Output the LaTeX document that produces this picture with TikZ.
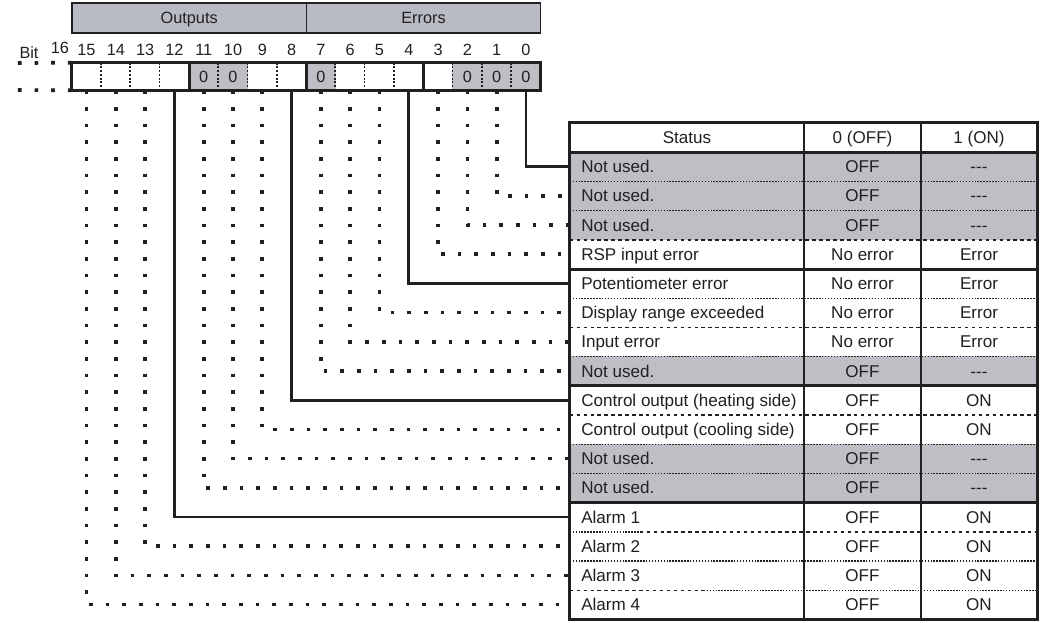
\documentclass[tikz,border=0pt]{standalone}
\usepackage{fontspec}
\setmainfont{Liberation Sans}
\usepackage{xcolor}
\usepackage{tikz}
\usetikzlibrary{calc}

\definecolor{ink}{RGB}{35,31,32}
\definecolor{cellgray}{RGB}{189,191,197}
\definecolor{bargray}{RGB}{184,187,195}
\newcommand{\nousedash}{\hbox{-}\hbox{-}\hbox{-}}

\tikzset{
  bitcell/.style={minimum width=21.98pt, minimum height=20.25pt, inner sep=0pt},
  bitnum/.style={inner sep=0pt, text=ink, font=\fontsize{12.2}{14}\selectfont, text height=8.7pt, text depth=0pt},
  barbox/.style={draw=ink, line width=0.9pt, fill=bargray, minimum width=175.8pt, minimum height=22.5pt,
    inner sep=0pt, text=ink, font=\fontsize{12.2}{14}\selectfont, text height=8.7pt, text depth=0pt},
  rowcell/.style={minimum width=350.25pt, minimum height=21.9pt, inner sep=0pt},
  graycell/.style={fill=cellgray},
  whitecell/.style={fill=white},
  tabtext/.style={inner sep=0pt, text=ink, font=\fontsize{12.8}{15}\selectfont, text height=9.2pt, text depth=0pt},
  heavy/.style={line width=2.2pt, ink},
  dotline/.style={line width=2.8pt, ink, dash pattern=on 2.8pt off 9.7pt},
  bitsep/.style={line width=1.3pt, ink, dash pattern=on 1.4pt off 1.4pt},
  sepdot/.style={line width=1.1pt, ink, dash pattern=on 1.1pt off 1.1pt},
  sepdash/.style={line width=1.1pt, ink, dash pattern=on 2.6pt off 2.6pt},
  colline/.style={line width=1.1pt, ink}
}

\begin{document}
\begin{tikzpicture}[x=0.75pt,y=-0.75pt]
  \useasboundingbox (0,0) rectangle (1041,622);

  % Header bar
  \node[barbox] (outputs) at (189.2,18) {Outputs};
  \node[barbox] (errors) at (423.5,18) {Errors};

  % Bit cells and numbers
  \foreach \b in {0,...,15} {
    \node[bitcell] (bit\b) at ({526-29.3*\b},76.5) {};
    \node[bitnum] (num\b) at ({526-29.3*\b},50) {\b};
  }
  \node[bitnum] (num16) at (60,48) {16};
  \node[bitnum] (bitlabel) at (29,53) {Bit};

  % Shaded bits
  \fill[cellgray] (bit11.north west) rectangle (bit10.south east);
  \fill[cellgray] (bit7.north west) rectangle (bit7.south east);
  \fill[cellgray] (bit2.north west) rectangle (bit0.south east);

  % Dotted bit separators
  \foreach \b in {14,13,12,10,9,8,6,5,4,2,1,0}
    \draw[bitsep] (bit\b.north west) -- (bit\b.south west);

  % Fixed bit values
  \foreach \b in {11,10,7,2,1,0}
    \node[bitnum] (zero\b) at (bit\b) {0};

  % Bit box
  \draw[heavy] (bit15.north west) rectangle (bit0.south east);
  \foreach \b in {12,8,4}
    \draw[heavy] (bit\b.north east) -- (bit\b.south east);

  % Bits beyond 15
  \coordinate (extTop) at (8,63);
  \coordinate (extBot) at (8,90);
  \draw[dotline] (bit15.north west) -- (extTop);
  \draw[dotline] (bit15.south west) -- (extBot);

  % Table header
  \node[rowcell,whitecell] (head) at (803.5,137.4) {};
  \node[tabtext] (hstatus) at (687,137.4) {Status};
  \node[tabtext] (hoff) at (862.5,137.4) {0 (OFF)};
  \node[tabtext] (hon) at (979,137.4) {1 (ON)};

  % Table rows
  \foreach \b/\st/\zero/\one/\fl in {
    0/Not used./OFF/\nousedash/graycell,
    1/Not used./OFF/\nousedash/graycell,
    2/Not used./OFF/\nousedash/graycell,
    3/RSP input error/No error/Error/whitecell,
    4/Potentiometer error/No error/Error/whitecell,
    5/Display range exceeded/No error/Error/whitecell,
    6/Input error/No error/Error/whitecell,
    7/Not used./OFF/\nousedash/graycell,
    8/Control output (heating side)/OFF/ON/whitecell,
    9/Control output (cooling side)/OFF/ON/whitecell,
    10/Not used./OFF/\nousedash/graycell,
    11/Not used./OFF/\nousedash/graycell,
    12/Alarm 1/OFF/ON/whitecell,
    13/Alarm 2/OFF/ON/whitecell,
    14/Alarm 3/OFF/ON/whitecell,
    15/Alarm 4/OFF/ON/whitecell} {
    \pgfmathsetmacro\ry{166.6+29.2*\b}
    \node[rowcell,\fl] (row\b) at (803.5,\ry) {};
    \node[tabtext,anchor=west] (st\b) at (581,\ry) {\st};
    \node[tabtext] (off\b) at (862.5,\ry) {\zero};
    \node[tabtext] (on\b) at (979,\ry) {\one};
  }

  % Row separators
  \foreach \b/\sty in {0/sepdot,1/sepdot,2/sepdash,4/sepdot,5/sepdash,6/sepdot,
                       8/sepdash,9/sepdot,10/sepdot,13/sepdot}
    \draw[\sty] (row\b.south west) -- (row\b.south east);
  \draw[sepdot] (row12.south west) -- ($(row12.south west)+(70,0)$);
  \draw[sepdash] ($(row12.south west)+(70,0)$) -- (row12.south east);
  \draw[sepdash] (row14.south west) -- ($(row14.south west)+(137,0)$);
  \draw[sepdot] ($(row14.south west)+(137,0)$) -- (row14.south east);

  % Column lines
  \draw[colline] (804,122.8) -- (804,619.8);
  \draw[colline] (921,122.8) -- (921,619.8);

  % Connectors from bits to rows
  \foreach \b in {1,2,3,5,6,7,9,10,11,13,14,15}
    \draw[dotline] (bit\b.south) |- (row\b.west);
  \foreach \b in {0,4,8,12}
    \draw[heavy] (bit\b.south) |- (row\b.west);

  % Table frame and group lines
  \draw[heavy] (head.south west) -- (head.south east);
  \foreach \b in {3,7,11}
    \draw[heavy] (row\b.south west) -- (row\b.south east);
  \draw[heavy] (head.north west) rectangle (row15.south east);
\end{tikzpicture}
\end{document}
